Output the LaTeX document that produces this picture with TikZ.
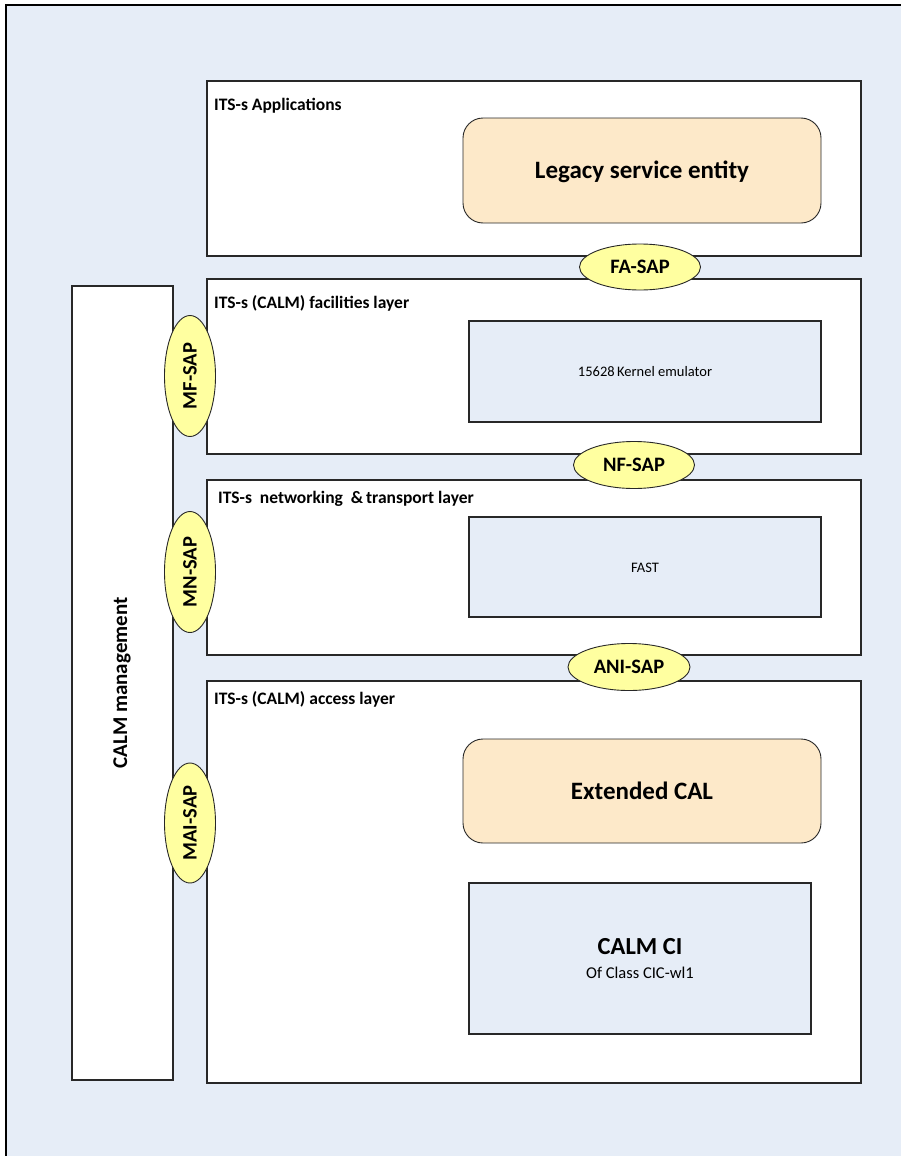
\documentclass[tikz,border=0pt]{standalone}
\usepackage{fontspec}
\setmainfont{Carlito}
\usetikzlibrary{shapes.geometric}
\definecolor{paleblue}{RGB}{230,237,247}
\definecolor{peach}{RGB}{253,233,201}
\definecolor{sapyellow}{RGB}{255,255,160}
\definecolor{edge}{RGB}{40,40,40}
\tikzset{
  layer/.style={draw=edge, line width=1.1pt, fill=white},
  inner/.style={draw=edge, line width=1.1pt, fill=paleblue},
  entity/.style={draw=edge, line width=0.9pt, fill=peach, rounded corners=20pt},
  sap/.style={ellipse, draw=edge, line width=0.9pt, fill=sapyellow, inner sep=0pt,
    font=\bfseries\fontsize{20.5}{24}\selectfont},
  saptext/.style={rotate=90, font=\bfseries\fontsize{20.5}{24}\selectfont},
  laytitle/.style={anchor=west, inner sep=0pt, font=\bfseries\fontsize{17.5}{20}\selectfont},
  bigbold/.style={font=\bfseries\fontsize{25}{30}\selectfont},
  small/.style={font=\fontsize{14.5}{17}\selectfont},
}
\begin{document}
\begin{tikzpicture}[x=1pt, y=-1pt]
\useasboundingbox (0,0) rectangle (901,1156);
% page background with left and top edges
\fill[paleblue] (6,5) rectangle (901,1156);
\draw[black, line width=1.2pt] (6,1156) -- (6,5) -- (901,5);

% management column
\draw[layer] (72,286) rectangle (173,1080);
\node[rotate=90, font=\bfseries\fontsize{21}{24}\selectfont] (mgmt) at (122,683) {CALM management};

% layers
\draw[layer] (207,81) rectangle (861,256);
\node[laytitle] (tapp) at (214,105.5) {ITS-s Applications};
\draw[layer] (207,279) rectangle (861,454);
\node[laytitle] (tfac) at (214,303.5) {ITS-s (CALM) facilities layer};
\draw[layer] (207,480) rectangle (861,655);
\node[laytitle] (tnet) at (218,498.5) {ITS-s\ \ networking\ \ \&\,transport layer};
\draw[layer] (207,681) rectangle (861,1083);
\node[laytitle] (tacc) at (214,699.5) {ITS-s (CALM) access layer};

% entities inside layers
\draw[entity] (463,118) rectangle (821,223);
\node[bigbold] (legacy) at (642,172) {Legacy service entity};

\draw[inner] (469,321) rectangle (821,422);
\node[small] (kernel) at (645,372) {15628\,Kernel emulator};

\draw[inner] (469,517) rectangle (821,617);
\node[small] (fast) at (645,568) {FAST};

\draw[entity] (463,739) rectangle (821,843);
\node[bigbold] (ecal) at (642,791) {Extended CAL};

\draw[inner] (469,883) rectangle (811,1034);
\node[font=\bfseries\fontsize{24.5}{29}\selectfont] (ci) at (640,947) {CALM CI};
\node[font=\fontsize{16.5}{19}\selectfont] (cicls) at (640,973) {Of Class CIC-wl1};

% service access points
\node[sap, minimum width=121pt, minimum height=46pt] (fa) at (640,267) {FA-SAP};
\node[sap, minimum width=121pt, minimum height=47pt] (nf) at (634,465) {NF-SAP};
\node[sap, minimum width=122pt, minimum height=47pt] (ani) at (629,667) {ANI-SAP};
\node[sap, minimum width=51pt, minimum height=121pt] (mf) at (190,376) {};
\node[saptext] (mft) at (mf) {MF-SAP};
\node[sap, minimum width=51pt, minimum height=121pt] (mn) at (190,572) {};
\node[saptext] (mnt) at (mn) {MN-SAP};
\node[sap, minimum width=51pt, minimum height=120pt] (mai) at (190,823) {};
\node[saptext] (mait) at (mai) {MAI-SAP};
\end{tikzpicture}
\end{document}
